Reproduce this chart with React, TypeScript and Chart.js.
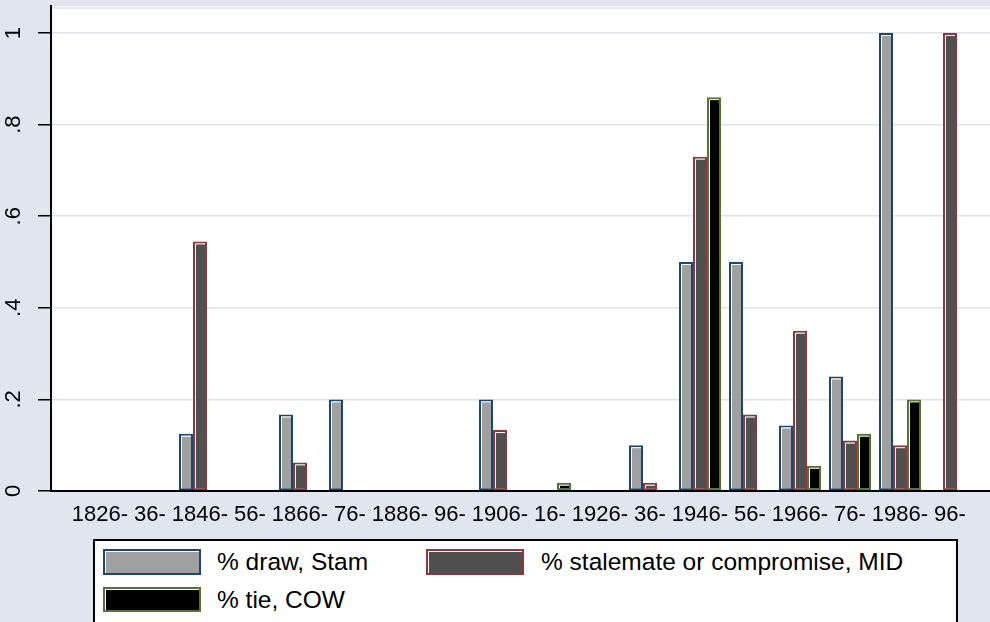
import React, { useEffect, useRef } from "react";
import { Chart, registerables } from "chart.js";
Chart.register(...registerables);

const periods = ["1826-", "36-", "1846-", "56-", "1866-", "76-", "1886-", "96-", "1906-", "16-", "1926-", "36-", "1946-", "56-", "1966-", "76-", "1986-", "96-"];
const drawStam = [null, null, 0.125, null, 0.167, 0.2, null, null, 0.2, null, null, 0.1, 0.5, 0.5, 0.143, 0.25, 1.0, null];
const stalemateMID = [null, null, 0.545, null, 0.0625, null, null, null, 0.133, null, null, 0.018, 0.73, 0.167, 0.35, 0.11, 0.1, 1.0];
const tieCOW = [null, null, null, null, null, null, null, null, null, 0.018, null, null, 0.86, null, 0.055, 0.125, 0.2, null];
const yTicks = [0, 0.2, 0.4, 0.6, 0.8, 1];
const yTickLabels = ["0", ".2", ".4", ".6", ".8", "1"];
const seriesNames = ["% draw, Stam", "% stalemate or compromise, MID", "% tie, COW"];

const fills = ["#a0a0a0", "#505050", "#000000"];
const borders = ["#1a476f", "#90353b", "#55752f"];
const BG = "#e0e5ef";
const GRID = "#dde2ec";
const FONT = '"Liberation Sans", Arial, Helvetica, sans-serif';

const customPlugin = {
  id: "custom",
  beforeDraw(chart: any) {
    const { ctx, chartArea: a } = chart;
    ctx.save();
    ctx.fillStyle = "#fff";
    ctx.fillRect(a.left, a.top, a.right - a.left, a.bottom - a.top);
    ctx.strokeStyle = GRID;
    ctx.lineWidth = 1.5;
    ctx.beginPath();
    ctx.moveTo(a.left, a.top + 2);
    ctx.lineTo(a.right, a.top + 2);
    ctx.stroke();
    ctx.restore();
  },
  afterDatasetsDraw(chart: any) {
    const { ctx } = chart;
    ctx.save();
    ctx.strokeStyle = "#fff";
    ctx.lineWidth = 1;
    chart.data.datasets.forEach((_: any, di: number) => {
      const meta = chart.getDatasetMeta(di);
      meta.data.forEach((el: any, i: number) => {
        const v = (chart.data.datasets[di].data[i] as any).y;
        if (v === null || v === undefined) return;
        const { x, y, base, width } = el.getProps(["x", "y", "base", "width"], true);
        const left = x - width / 2;
        const right = x + width / 2;
        if (base - y < 5) return;
        ctx.beginPath();
        ctx.moveTo(left + 2.5, base - 2);
        ctx.lineTo(left + 2.5, y + 2.5);
        ctx.lineTo(right - 2, y + 2.5);
        ctx.stroke();
      });
    });
    ctx.restore();
  },
  afterDraw(chart: any) {
    const { ctx } = chart;
    const ys = chart.scales.y;
    ctx.save();
    ctx.fillStyle = "#000";
    ctx.font = `22px ${FONT}`;
    ctx.textAlign = "center";
    ctx.textBaseline = "middle";
    yTicks.forEach((v, i) => {
      const py = ys.getPixelForValue(v);
      ctx.save();
      ctx.translate(14, py);
      ctx.rotate(-Math.PI / 2);
      ctx.fillText(yTickLabels[i], 0, 0);
      ctx.restore();
    });
    ctx.restore();
  },
};

export default function App() {
  const ref = useRef<HTMLCanvasElement>(null);
  useEffect(() => {
    document.body.style.margin = "0";
    const series = [drawStam, stalemateMID, tieCOW];
    const chart = new Chart(ref.current as HTMLCanvasElement, {
      type: "bar",
      data: {
        datasets: series.map((s, k) => ({
          label: seriesNames[k],
          data: s.map((v, i) => ({ x: i, y: v })) as any,
          backgroundColor: fills[k],
          borderColor: borders[k],
          borderWidth: 2,
          borderSkipped: false,
          categoryPercentage: 0.84,
          barPercentage: 1,
        })),
      },
      options: {
        responsive: false,
        animation: false,
        devicePixelRatio: 1,
        layout: { padding: { top: 6, left: 0, right: 0, bottom: 0 } },
        plugins: { legend: { display: false }, tooltip: { enabled: false } },
        scales: {
          x: {
            type: "linear",
            offset: false,
            min: -0.98,
            max: 17.8,
            afterFit: (s: any) => {
              s.height = 39;
            },
            afterBuildTicks: (s: any) => {
              s.ticks = periods.map((_, i) => ({ value: i }));
            },
            ticks: {
              callback: (v: any) => periods[v as number],
              autoSkip: false,
              maxRotation: 0,
              minRotation: 0,
              padding: 11,
              color: "#000",
              font: { family: FONT, size: 22 },
            },
            grid: { display: false, drawTicks: false, offset: false },
            border: { display: true, color: "#000", width: 2 },
          },
          y: {
            min: 0,
            max: 1.059,
            afterFit: (s: any) => {
              s.width = 51;
            },
            afterBuildTicks: (s: any) => {
              s.ticks = yTicks.map((v) => ({ value: v }));
            },
            ticks: { display: false },
            grid: {
              color: GRID,
              lineWidth: 1.5,
              drawTicks: true,
              tickLength: 13,
              tickColor: "#000",
              tickWidth: 1.5,
            },
            border: { display: true, color: "#000", width: 2 },
          },
        },
      } as any,
      plugins: [customPlugin],
    });
    return () => chart.destroy();
  }, []);

  const sw = (left: number, top: number, h: number, k: number) => (
    <div
      style={{
        position: "absolute",
        left,
        top,
        width: 98,
        height: h,
        boxSizing: "border-box",
        border: `2px solid ${borders[k]}`,
        background: fills[k],
        boxShadow: "inset 1px 1px 0 #fff",
      }}
    />
  );
  const txt = (left: number, top: number, h: number, k: number) => (
    <div
      style={{
        position: "absolute",
        left,
        top,
        height: h,
        lineHeight: `${h}px`,
        fontFamily: FONT,
        fontSize: 24.5,
        color: "#000",
        whiteSpace: "nowrap",
      }}
    >
      {seriesNames[k]}
    </div>
  );

  return (
    <div style={{ position: "relative", width: 990, height: 622, background: BG, overflow: "hidden" }}>
      <canvas ref={ref} width={990} height={530} style={{ position: "absolute", left: 0, top: 0 }} />
      <div
        style={{
          position: "absolute",
          left: 93,
          top: 539,
          width: 865,
          height: 120,
          boxSizing: "border-box",
          background: "#fff",
          border: "2px solid #000",
        }}
      />
      {sw(103, 549, 26, 0)}
      {txt(217, 549, 26, 0)}
      {sw(426, 549, 26, 1)}
      {txt(541, 549, 26, 1)}
      {sw(103, 587, 25, 2)}
      {txt(217, 587, 25, 2)}
    </div>
  );
}
